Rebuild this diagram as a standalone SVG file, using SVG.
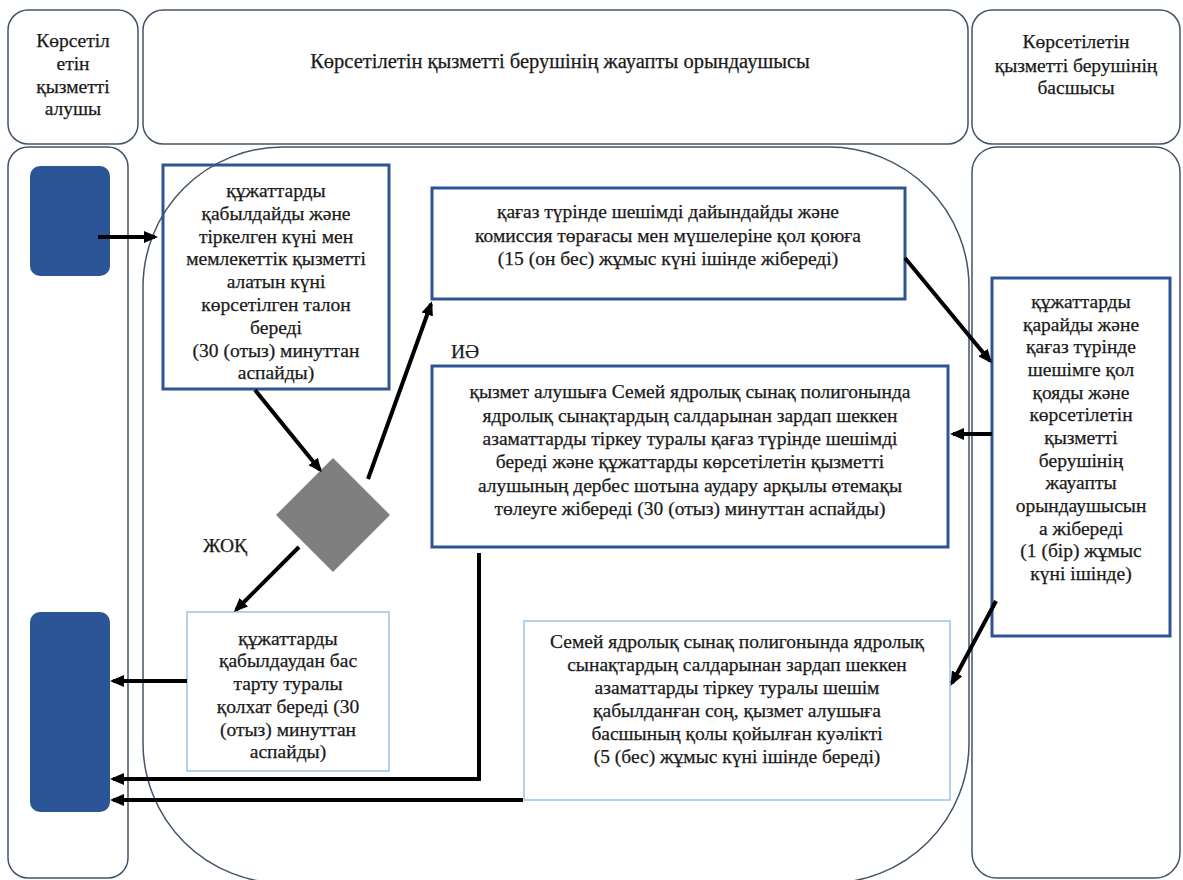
<svg xmlns="http://www.w3.org/2000/svg" width="1183" height="880" viewBox="0 0 1183 880">
<style>
.lane{fill:none;stroke:#44546a;stroke-width:1.5}
.box{fill:none;stroke:#2f5496;stroke-width:3}
.lbox{fill:none;stroke:#9dc3e6;stroke-width:1.5}
.blue{fill:#2b5597}
.t{font-family:'Liberation Serif','Times New Roman',serif;font-size:19.5px;fill:#1a1a1a;stroke:#1a1a1a;stroke-width:0.25;text-anchor:middle}
.lbl{font-family:'Liberation Serif','Times New Roman',serif;font-size:19.5px;fill:#1a1a1a;stroke:#1a1a1a;stroke-width:0.25}
.c{fill:none;stroke:#000;stroke-width:4}
</style>
<defs>
<marker id="ah" viewBox="0 0 14 12" markerUnits="userSpaceOnUse" markerWidth="14" markerHeight="12" refX="11" refY="6" orient="auto">
<path d="M0,0 L14,6 L0,12 z" fill="#000"/>
</marker>
</defs>
<rect width="1183" height="880" fill="#fff"/>
<g id="lanes">
<rect class="lane" x="8" y="10" width="130" height="134" rx="20"/>
<rect class="lane" x="143" y="10" width="825" height="134" rx="20"/>
<rect class="lane" x="972" y="10" width="208" height="134" rx="20"/>
<rect class="lane" x="8" y="147" width="120" height="731" rx="20"/>
<rect class="lane" x="143" y="147" width="826" height="736" rx="140"/>
<rect class="lane" x="972" y="147" width="208" height="731" rx="25"/>
</g>
<g id="header-left">
<text class="t" x="73" y="47">Көрсетіл</text>
<text class="t" x="73" y="70">етін</text>
<text class="t" x="73" y="93">қызметті</text>
<text class="t" x="73" y="115">алушы</text>
</g>
<g id="header-middle">
<text class="t" x="560" y="68" style="font-size:20.5px">Көрсетілетін қызметті берушінің жауапты орындаушысы</text>
</g>
<g id="header-right">
<text class="t" x="1076" y="48">Көрсетілетін</text>
<text class="t" x="1076" y="72">қызметті берушінің</text>
<text class="t" x="1076" y="94">басшысы</text>
</g>
<g id="start">
<rect class="blue" x="30" y="166" width="80" height="110" rx="10"/>
</g>
<g id="end">
<rect class="blue" x="30" y="612" width="80" height="200" rx="10"/>
</g>
<g id="n1">
<rect class="box" x="163" y="165" width="226" height="224"/>
<text class="t" x="276" y="197">құжаттарды</text>
<text class="t" x="276" y="220">қабылдайды және</text>
<text class="t" x="276" y="243">тіркелген күні мен</text>
<text class="t" x="276" y="265">мемлекеттік қызметті</text>
<text class="t" x="276" y="288">алатын күні</text>
<text class="t" x="276" y="311">көрсетілген талон</text>
<text class="t" x="276" y="334">береді</text>
<text class="t" x="276" y="357">(30 (отыз) минуттан</text>
<text class="t" x="276" y="379">аспайды)</text>
</g>
<g id="n2">
<rect class="box" x="432" y="188" width="473" height="111"/>
<text class="t" x="668" y="218">қағаз түрінде шешімді дайындайды және</text>
<text class="t" x="668" y="242">комиссия төрағасы мен мүшелеріне қол қоюға</text>
<text class="t" x="668" y="265">(15 (он бес) жұмыс күні ішінде жібереді)</text>
</g>
<g id="decision">
<polygon points="333,458 390,515 333,572 276,515" fill="#7f7f7f"/>
</g>
<g id="n3">
<rect class="box" x="432" y="366" width="516" height="181"/>
<text class="t" x="690" y="398">қызмет алушыға Семей ядролық сынақ полигонында</text>
<text class="t" x="690" y="422">ядролық сынақтардың салдарынан зардап шеккен</text>
<text class="t" x="690" y="445">азаматтарды тіркеу туралы қағаз түрінде шешімді</text>
<text class="t" x="690" y="468">береді және құжаттарды көрсетілетін қызметті</text>
<text class="t" x="690" y="492">алушының дербес шотына аудару арқылы өтемақы</text>
<text class="t" x="690" y="515">төлеуге жібереді (30 (отыз) минуттан аспайды)</text>
</g>
<g id="n4">
<rect class="box" x="992" y="278" width="178" height="358"/>
<text class="t" x="1081" y="308">құжаттарды</text>
<text class="t" x="1081" y="331">қарайды және</text>
<text class="t" x="1081" y="353">қағаз түрінде</text>
<text class="t" x="1081" y="376">шешімге қол</text>
<text class="t" x="1081" y="399">қояды және</text>
<text class="t" x="1081" y="421">көрсетілетін</text>
<text class="t" x="1081" y="444">қызметті</text>
<text class="t" x="1081" y="467">берушінің</text>
<text class="t" x="1081" y="489">жауапты</text>
<text class="t" x="1081" y="512">орындаушысын</text>
<text class="t" x="1081" y="535">а жібереді</text>
<text class="t" x="1081" y="557">(1 (бір) жұмыс</text>
<text class="t" x="1081" y="580">күні ішінде)</text>
</g>
<g id="n5">
<rect class="lbox" x="187" y="612" width="202" height="159"/>
<text class="t" x="288" y="645">құжаттарды</text>
<text class="t" x="288" y="667">қабылдаудан бас</text>
<text class="t" x="288" y="690">тарту туралы</text>
<text class="t" x="288" y="713">қолхат береді (30</text>
<text class="t" x="288" y="736">(отыз) минуттан</text>
<text class="t" x="288" y="758">аспайды)</text>
</g>
<g id="n6">
<rect class="lbox" x="524" y="621" width="426" height="179"/>
<text class="t" x="737" y="648">Семей ядролық сынақ полигонында ядролық</text>
<text class="t" x="737" y="671">сынақтардың салдарынан зардап шеккен</text>
<text class="t" x="737" y="694">азаматтарды тіркеу туралы шешім</text>
<text class="t" x="737" y="717">қабылданған соң, қызмет алушыға</text>
<text class="t" x="737" y="740">басшының қолы қойылған куәлікті</text>
<text class="t" x="737" y="763">(5 (бес) жұмыс күні ішінде береді)</text>
</g>
<g id="connectors">
<path class="c" d="M98,237 H155" marker-end="url(#ah)"/>
<path class="c" d="M255,390 L320,470" marker-end="url(#ah)"/>
<path class="c" d="M368,479 L431,304" marker-end="url(#ah)"/>
<path class="c" d="M299,547 L236,610" marker-end="url(#ah)"/>
<path class="c" d="M905,258 L990,361" marker-end="url(#ah)"/>
<path class="c" d="M992,434 H953" marker-end="url(#ah)"/>
<path class="c" d="M996,601 L952,683" marker-end="url(#ah)"/>
<path class="c" d="M187,681 H113" marker-end="url(#ah)"/>
<path class="c" d="M479,553 V779 H113" marker-end="url(#ah)"/>
<path class="c" d="M523,800 H113" marker-end="url(#ah)"/>
<text class="lbl" x="451" y="358">ИӘ</text>
<text class="lbl" x="203" y="552">ЖОҚ</text>
</g>
</svg>
